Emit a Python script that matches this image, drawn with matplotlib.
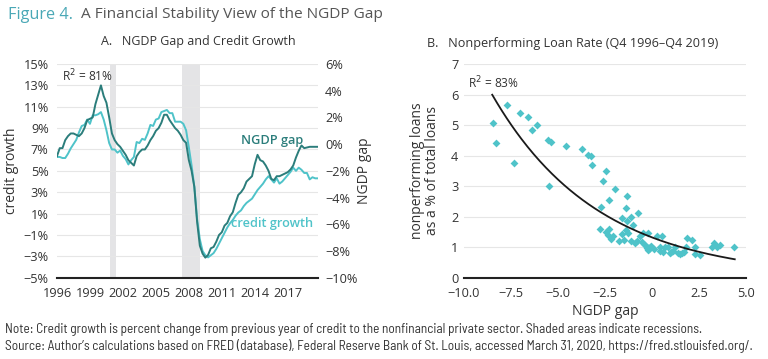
import numpy as np
import matplotlib
matplotlib.use("Agg")
import matplotlib.pyplot as plt

plt.rcParams['font.family'] = ['Open Sans', 'DejaVu Sans']
TITLE_FONT = ['Open Sans', 'DejaVu Sans']
NOTE_FONT = ['Barlow Semi Condensed', 'Archivo Narrow', 'Open Sans', 'DejaVu Sans']

# ---------------- data: panel A (quarterly, 1996Q1 .. 2019Q4) ----------------
quarter_years = [1996 + i / 4 for i in range(96)]
credit_growth = [
    6.3, 6.3, 6.2, 6.2, 6.6, 7.1, 7.5, 7.9, 8.6, 9.2, 9.3, 9.8,
    9.4, 10.2, 10.2, 10.3, 10.5, 9.8, 8.8, 7.6, 7.0, 7.0, 6.7, 6.9,
    6.4, 6.1, 5.6, 6.0, 6.3, 7.7, 7.6, 8.0, 7.9, 8.5, 9.3, 9.2,
    9.8, 9.9, 10.5, 10.6, 10.7, 10.4, 10.4, 9.6, 9.6, 9.6, 9.4, 8.8,
    7.2, 5.5, 3.5, 0.5, -1.4, -2.5, -2.9, -3.1, -2.9, -2.7, -2.3, -1.8,
    -1.3, -0.8, -0.3, 0.1, 0.4, 0.8, 1.1, 1.3, 1.7, 2.0, 2.2, 2.4,
    2.8, 3.2, 3.5, 3.8, 4.2, 4.5, 4.2, 3.9, 4.3, 3.8, 4.0, 4.3,
    4.6, 4.9, 5.3, 5.0, 5.3, 5.1, 4.8, 4.8, 4.2, 4.4, 4.3, 4.3,
]
ngdp_gap = [
    -0.9, -0.3, -0.3, 0.3, 0.6, 0.8, 0.8, 0.7, 0.6, 0.8, 1.2, 1.8,
    1.9, 2.0, 3.0, 3.7, 4.4, 3.6, 3.1, 2.0, 0.8, 0.3, 0.0, -0.2,
    -0.5, -0.8, -1.2, -1.4, -1.6, -0.9, -0.6, -0.4, -0.4, -0.1, 0.3, 0.6,
    1.0, 1.2, 1.6, 2.2, 2.2, 1.8, 1.5, 1.2, 1.0, 0.7, 0.3, 0.1,
    -1.2, -2.0, -3.2, -5.8, -7.6, -8.2, -8.5, -8.3, -7.8, -7.7, -7.3, -6.8,
    -6.6, -6.1, -5.9, -5.4, -5.1, -4.4, -3.8, -3.6, -3.3, -2.8, -2.6, -2.4,
    -1.5, -0.8, -1.2, -1.3, -1.6, -2.0, -2.6, -2.7, -2.4, -2.4, -2.3, -2.2,
    -2.1, -1.9, -1.6, -1.0, -0.5, -0.1, -0.3, -0.25, -0.2, -0.2, -0.2, -0.2,
]
recessions = [(2000.8, 2001.4), (2007.4, 2009.0)]
year_ticks = [1996, 1999, 2002, 2005, 2008, 2011, 2014, 2017]
credit_ticks = [15, 13, 11, 9, 7, 5, 3, 1, -1, -3, -5]
gap_ticks = [6, 4, 2, 0, -2, -4, -6, -8, -10]

# ---------------- data: panel B ----------------
npl_gap = [
    -8.45, -8.28, -7.74, -7.35, -7.0, -6.59, -6.36, -6.11, -5.52, -5.38,
    -5.49, -4.6, -3.75, -3.39, -3.27, -3.2, -2.45, -2.63, -2.74, -1.95,
    -1.35, -2.27, -1.39, -1.62, -0.76, -1.35, -1.12, -1.0, -2.77, -2.27,
    -2.45, -2.33, -2.18, -1.74, -1.62, -1.39, -1.26, -1.14, -0.82, -0.91,
    -0.46, -0.2, -0.55, -0.37, -0.28, -0.2, -0.1, -0.14, 0.25, 0.52,
    0.43, 0.4, 0.69, 0.87, 0.96, 1.1, 1.23, 1.4, 1.58, 1.7,
    1.81, 1.88, 2.11, 2.29, 2.26, 2.56, 3.27, 3.18, 3.45, 3.63,
    4.37, -0.63, -0.05, 0.1, -0.25, 0.6, 1.0, 1.5, -1.5, -2.1,
]
npl_rate = [
    5.07, 4.41, 5.67, 3.77, 5.39, 5.25, 4.85, 4.99, 4.52, 4.43,
    2.99, 4.30, 4.22, 4.03, 3.99, 3.70, 3.50, 3.18, 2.31, 2.91,
    2.69, 2.53, 2.29, 1.95, 2.13, 1.87, 2.00, 1.73, 1.60, 1.59,
    1.49, 1.40, 1.26, 1.20, 1.42, 1.56, 1.46, 1.20, 1.21, 1.13,
    1.48, 1.48, 1.18, 1.07, 0.96, 0.91, 1.02, 0.93, 1.35, 1.35,
    1.02, 0.89, 1.02, 1.00, 0.80, 0.88, 1.02, 0.82, 0.80, 0.85,
    1.02, 1.29, 1.24, 1.02, 0.78, 0.74, 1.15, 1.00, 1.02, 1.07,
    1.02, 1.35, 1.05, 0.95, 1.00, 0.85, 0.85, 0.78, 1.25, 1.35,
]
fit_a, fit_b = 1.32, -0.178
fit_range = (-8.5, 4.4)
npl_xticks = [-10.0, -7.5, -5.0, -2.5, 0, 2.5, 5.0]
npl_xlabels = ['−10.0', '−7.5', '−5.0', '−2.5', '0', '2.5', '5.0']
npl_yticks = [0, 1, 2, 3, 4, 5, 6, 7]

# ---------------- styles ----------------
DARK = '#2b7d7b'
LIGHT = '#4fc3c9'
TXT = '#333333'
GRID = '#e6e6e6'
W, H = 768, 359

fig = plt.figure(figsize=(7.68, 3.59), dpi=100)
renderer = fig.canvas.get_renderer()


def fit_width(t, target_px):
    """Scale a text's font size so that its rendered width matches target_px."""
    for _ in range(3):
        w = t.get_window_extent(renderer).width
        t.set_fontsize(t.get_fontsize() * target_px / w)


def px(x, y):
    return x / W, 1 - y / H


# title
t1 = fig.text(*px(8, 15), 'Figure 4.', color='#4aa8b6', fontsize=11.5, va='center',
              ha='left', family=TITLE_FONT)
fit_width(t1, 65)
t2 = fig.text(*px(81, 15), 'A Financial Stability View of the NGDP Gap', color='#555555',
              fontsize=11.5, va='center', ha='left', family=TITLE_FONT)
fit_width(t2, 302)

# panel titles
ta = fig.text(*px(198, 42), 'A.   NGDP Gap and Credit Growth', fontsize=9.3, color=TXT,
              ha='center', va='center')
fit_width(ta, 196)
tb = fig.text(*px(572.5, 43), 'B.   Nonperforming Loan Rate (Q4 1996–Q4 2019)', fontsize=9.3,
              color=TXT, ha='center', va='center')
fit_width(tb, 291)

# ---------------- Panel A ----------------
axL = fig.add_axes([0.0742, 0.2265, 0.3398, 0.5952])
axR = axL.twinx()
axL.set_xlim(1996, 2019.75)
axL.set_ylim(-5, 15)
axR.set_ylim(-10, 6)
for a, b in recessions:
    axL.axvspan(a, b, color='#e4e4e6', lw=0, zorder=0)
for t in credit_ticks:
    axL.axhline(t, color=GRID, lw=0.8, zorder=0.5)
axL.plot(quarter_years, credit_growth, color=LIGHT, lw=1.4, zorder=3)
axR.plot(quarter_years, ngdp_gap, color=DARK, lw=1.4, zorder=3)
axL.set_yticks(credit_ticks)
axL.set_yticklabels([f'{t}%'.replace('-', '−') for t in credit_ticks])
axR.set_yticks(gap_ticks)
axR.set_yticklabels([f'{t}%'.replace('-', '−') for t in gap_ticks])
axL.set_xticks(year_ticks)
for ax in (axL, axR):
    for s in ax.spines.values():
        s.set_visible(False)
    ax.tick_params(length=0, labelsize=9.2, colors=TXT)
axL.spines['bottom'].set_visible(True)
axL.spines['bottom'].set_color('#222222')
axL.spines['bottom'].set_linewidth(1.5)
axL.tick_params(axis='x', pad=6.5)
axL.tick_params(axis='y', pad=6)
axR.tick_params(axis='y', pad=5)
axL.set_ylabel('credit growth', fontsize=10, color=TXT)
axL.yaxis.set_label_coords(-0.146, 0.5)
axR.set_ylabel('NGDP gap', fontsize=10, color=TXT)
axR.yaxis.set_label_coords(1.149, 0.5)
axL.text(0.018, 0.946, 'R$^2$ = 81%', transform=axL.transAxes, fontsize=8.6, color=TXT,
         ha='left', va='center')
axL.text(0.823, 0.64, 'NGDP gap', transform=axL.transAxes, fontsize=9.2, color=DARK,
         ha='center', va='center', fontweight='semibold')
axL.text(0.826, 0.255, 'credit growth', transform=axL.transAxes, fontsize=9.2, color=LIGHT,
         ha='center', va='center', fontweight='semibold')

# ---------------- Panel B ----------------
axB = fig.add_axes([0.6042, 0.2265, 0.3672, 0.5952])
axB.set_xlim(-10, 5)
axB.set_ylim(0, 7)
for t in npl_yticks:
    axB.axhline(t, color=GRID, lw=0.8, zorder=0.5)
axB.scatter(npl_gap, npl_rate, marker='D', s=16, color=LIGHT, lw=0, zorder=3)
xf = np.linspace(fit_range[0], fit_range[1], 200)
axB.plot(xf, fit_a * np.exp(fit_b * xf), color='#1a1a1a', lw=1.3, zorder=4)
axB.set_xticks(npl_xticks)
axB.set_xticklabels(npl_xlabels)
axB.set_yticks(npl_yticks)
for s in axB.spines.values():
    s.set_visible(False)
axB.spines['bottom'].set_visible(True)
axB.spines['bottom'].set_color('#222222')
axB.spines['bottom'].set_linewidth(1.5)
axB.tick_params(length=0, labelsize=9.2, colors=TXT)
axB.tick_params(axis='x', pad=6.5)
axB.tick_params(axis='y', pad=4)
axB.set_xlabel('NGDP gap', fontsize=10, color=TXT, labelpad=3)
axB.set_ylabel('nonperforming loans\nas a % of total loans', fontsize=10, color=TXT,
               labelpad=8, linespacing=1.0)
axB.text(0.015, 0.913, 'R$^2$ = 83%', transform=axB.transAxes, fontsize=8.6, color=TXT,
         ha='left', va='center')

# notes
n1 = fig.text(*px(5, 329), 'Note: Credit growth is percent change from previous year of credit to the '
              'nonfinancial private sector. Shaded areas indicate recessions.',
              fontsize=8, color=TXT, ha='left', va='center', family=NOTE_FONT)
fit_width(n1, 698)
n2 = fig.text(*px(5, 346), 'Source: Author’s calculations based on FRED (database), Federal Reserve '
              'Bank of St. Louis, accessed March 31, 2020, https://fred.stlouisfed.org/.',
              fontsize=8, color=TXT, ha='left', va='center', family=NOTE_FONT)
fit_width(n2, 752)

fig.savefig('out.png', dpi=100)
